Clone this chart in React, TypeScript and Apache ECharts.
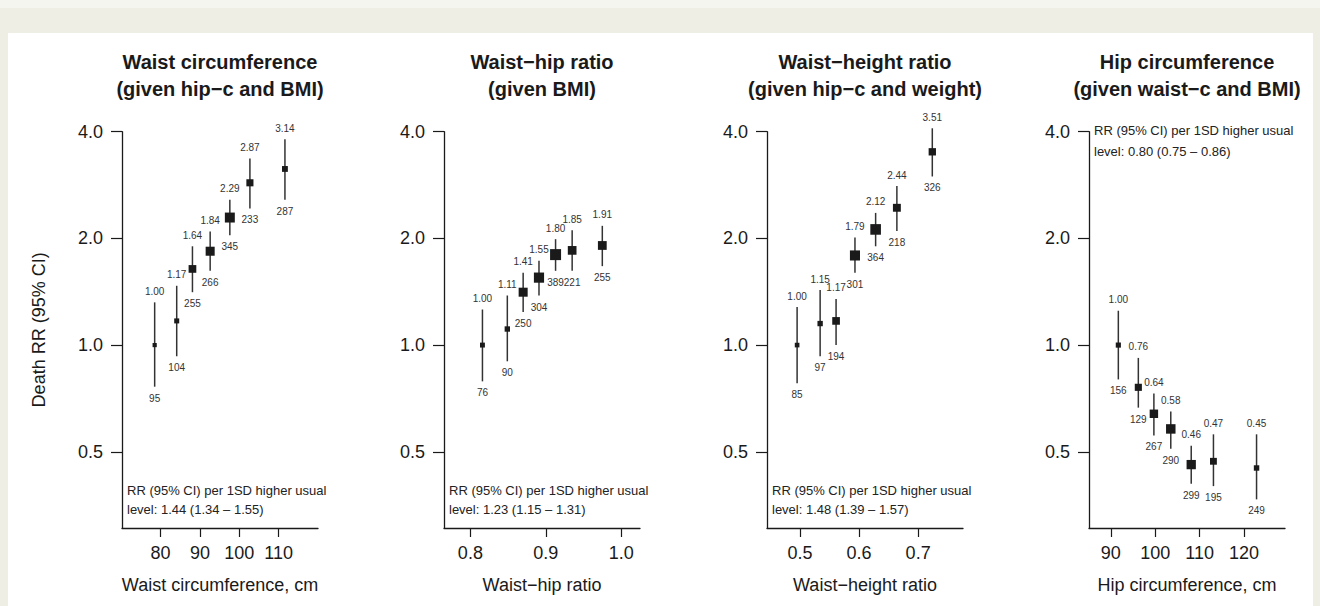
import React, { useEffect, useRef } from "react";
import * as echarts from "echarts";

// ---------- data ----------
const waistX = [78.5, 84.1, 88.1, 92.6, 97.6, 102.7, 111.6];
const waistRR = [1.0, 1.17, 1.64, 1.84, 2.29, 2.87, 3.14];
const waistLo = [0.763, 0.93, 1.41, 1.62, 2.04, 2.43, 2.57];
const waistHi = [1.32, 1.47, 1.9, 2.09, 2.57, 3.36, 3.81];
const waistN = [95, 104, 255, 266, 345, 233, 287];

const whrX = [0.816, 0.849, 0.87, 0.891, 0.913, 0.935, 0.975];
const whrRR = [1.0, 1.11, 1.41, 1.55, 1.8, 1.85, 1.91];
const whrLo = [0.79, 0.9, 1.24, 1.38, 1.62, 1.62, 1.67];
const whrHi = [1.26, 1.38, 1.6, 1.73, 1.99, 2.11, 2.17];
const whrN = [76, 90, 250, 304, 389, 221, 255];

const whtX = [0.495, 0.534, 0.561, 0.593, 0.628, 0.664, 0.724];
const whtRR = [1.0, 1.15, 1.17, 1.79, 2.12, 2.44, 3.51];
const whtLo = [0.78, 0.93, 1.0, 1.6, 1.9, 2.1, 2.99];
const whtHi = [1.28, 1.43, 1.35, 2.01, 2.36, 2.81, 4.09];
const whtN = [85, 97, 194, 301, 364, 218, 326];

const hipX = [91.7, 96.2, 99.7, 103.5, 108.1, 113.1, 122.8];
const hipRR = [1.0, 0.76, 0.64, 0.58, 0.46, 0.47, 0.45];
const hipLo = [0.8, 0.666, 0.556, 0.51, 0.406, 0.4, 0.367];
const hipHi = [1.25, 0.92, 0.73, 0.65, 0.52, 0.56, 0.56];
const hipN = [156, 129, 267, 290, 299, 195, 249];

const yTicks = [0.5, 1, 2, 4];
const waistTicks = [80, 90, 100, 110];
const whrTicks = [0.8, 0.9, 1.0];
const whtTicks = [0.5, 0.6, 0.7];
const hipTicks = [90, 100, 110, 120];

const panelTitles = [
  ["Waist circumference", "(given hip\u2212c and BMI)"],
  ["Waist\u2212hip ratio", "(given BMI)"],
  ["Waist\u2212height ratio", "(given hip\u2212c and weight)"],
  ["Hip circumference", "(given waist\u2212c and BMI)"],
];
const xNames = [
  "Waist circumference, cm",
  "Waist\u2212hip ratio",
  "Waist\u2212height ratio",
  "Hip circumference, cm",
];
const perSD = ["1.44 (1.34 \u2013 1.55)", "1.23 (1.15 \u2013 1.31)", "1.48 (1.39 \u2013 1.57)", "0.80 (0.75 \u2013 0.86)"];
const yName = "Death RR (95% CI)";

// ---------- layout ----------
const FONT = '"Liberation Sans", Arial, Helvetica, sans-serif';
const gridLefts = [122, 444, 767, 1089];
const GRID_W = 196;
const GRID_TOP = 131.7;
const GRID_H = 396.3;
const xRanges = [
  [70.2, 120],
  [0.765, 1.025],
  [0.444, 0.776],
  [85.1, 129.2],
];
const xDecimals = [0, 1, 1, 0];

const panels = [
  { x: waistX, rr: waistRR, lo: waistLo, hi: waistHi, n: waistN, ticks: waistTicks },
  { x: whrX, rr: whrRR, lo: whrLo, hi: whrHi, n: whrN, ticks: whrTicks },
  { x: whtX, rr: whtRR, lo: whtLo, hi: whtHi, n: whtN, ticks: whtTicks },
  { x: hipX, rr: hipRR, lo: hipLo, hi: hipHi, n: hipN, ticks: hipTicks },
];

function buildOption() {
  const grid: any[] = [];
  const xAxis: any[] = [];
  const yAxis: any[] = [];
  const series: any[] = [];
  const graphic: any[] = [
    { type: "rect", left: 0, top: 0, shape: { width: 1320, height: 8 }, style: { fill: "#f5f5ef" }, silent: true },
    { type: "rect", left: 8, top: 33, shape: { width: 1305, height: 573 }, style: { fill: "#ffffff" }, silent: true },
  ];

  panels.forEach((p, i) => {
    grid.push({ left: gridLefts[i], top: GRID_TOP, width: GRID_W, height: GRID_H, containLabel: false });
    xAxis.push({
      type: "value",
      gridIndex: i,
      min: xRanges[i][0],
      max: xRanges[i][1],
      splitLine: { show: false },
      axisLine: { show: true, lineStyle: { color: "#1a1a1a", width: 1.3 } },
      axisTick: { show: true, customValues: p.ticks, length: 9, lineStyle: { color: "#1a1a1a", width: 1.2 } },
      axisLabel: {
        customValues: p.ticks,
        formatter: (v: number) => v.toFixed(xDecimals[i]),
        fontSize: 18,
        fontFamily: FONT,
        color: "#1a1a1a",
        margin: 16,
      },
      name: xNames[i],
      nameLocation: "middle",
      nameGap: 48,
      nameTextStyle: { fontSize: 18, fontFamily: FONT, color: "#1a1a1a" },
    });
    yAxis.push({
      type: "log",
      logBase: 2,
      gridIndex: i,
      min: 0.3047,
      max: 4,
      splitLine: { show: false },
      axisLine: { show: true, lineStyle: { color: "#1a1a1a", width: 1.3 } },
      axisTick: { show: true, customValues: yTicks, length: 11, lineStyle: { color: "#1a1a1a", width: 1.2 } },
      axisLabel: {
        customValues: yTicks,
        formatter: (v: number) => v.toFixed(1),
        fontSize: 18,
        fontFamily: FONT,
        color: "#1a1a1a",
        margin: 19,
      },
      name: i === 0 ? yName : "",
      nameLocation: "middle",
      nameGap: 74,
      nameTextStyle: { fontSize: 18, fontFamily: FONT, color: "#1a1a1a" },
    });
    const data = p.x.map((xv, k) => [xv, p.rr[k], p.lo[k], p.hi[k], p.n[k]]);
    series.push({
      type: "custom",
      xAxisIndex: i,
      yAxisIndex: i,
      clip: false,
      encode: { x: 0, y: 1 },
      data,
      renderItem: (params: any, api: any) => {
        const xv = api.value(0);
        const rr = api.value(1);
        const lo = api.value(2);
        const hi = api.value(3);
        const n = api.value(4);
        const c = api.coord([xv, rr]);
        const t = api.coord([xv, hi]);
        const b = api.coord([xv, lo]);
        const s = Math.min(11, 2.3 / Math.log(hi / lo));
        return {
          type: "group",
          children: [
            { type: "line", shape: { x1: c[0], y1: t[1], x2: c[0], y2: b[1] }, style: { stroke: "#333333", lineWidth: 1.5 } },
            { type: "rect", shape: { x: c[0] - s / 2, y: c[1] - s / 2, width: s, height: s }, style: { fill: "#1a1a1a" } },
            {
              type: "text",
              style: { text: rr.toFixed(2), x: c[0], y: t[1] - 11, align: "center", verticalAlign: "middle", fontSize: 10, fontFamily: FONT, fill: "#333333" },
            },
            {
              type: "text",
              style: { text: String(n), x: c[0], y: b[1] + 11.5, align: "center", verticalAlign: "middle", fontSize: 10, fontFamily: FONT, fill: "#333333" },
            },
          ],
        };
      },
    });

    const cx = gridLefts[i] + GRID_W / 2;
    graphic.push({
      type: "text",
      x: cx,
      y: 62,
      style: { text: panelTitles[i][0], align: "center", verticalAlign: "middle", fontSize: 20, fontWeight: "bold", fontFamily: FONT, fill: "#1a1a1a" },
    });
    graphic.push({
      type: "text",
      x: cx,
      y: 89,
      style: { text: panelTitles[i][1], align: "center", verticalAlign: "middle", fontSize: 20, fontWeight: "bold", fontFamily: FONT, fill: "#1a1a1a" },
    });
    const ay = i === 3 ? [130, 151] : [490, 509];
    graphic.push({
      type: "text",
      x: gridLefts[i] + 5,
      y: ay[0],
      style: { text: "RR (95% CI) per 1SD higher usual", align: "left", verticalAlign: "middle", fontSize: 13, fontFamily: FONT, fill: "#222222" },
    });
    graphic.push({
      type: "text",
      x: gridLefts[i] + 5,
      y: ay[1],
      style: { text: "level: " + perSD[i], align: "left", verticalAlign: "middle", fontSize: 13, fontFamily: FONT, fill: "#222222" },
    });
  });

  return {
    animation: false,
    backgroundColor: "#eeeee4",
    grid,
    xAxis,
    yAxis,
    series,
    graphic,
  };
}

export default function App() {
  const ref = useRef<HTMLDivElement>(null);
  useEffect(() => {
    if (!ref.current) return;
    const chart = echarts.init(ref.current, undefined, { renderer: "svg" });
    chart.setOption(buildOption() as any);
    return () => chart.dispose();
  }, []);
  return <div ref={ref} style={{ position: "fixed", left: 0, top: 0, width: 1320, height: 606 }} />;
}
